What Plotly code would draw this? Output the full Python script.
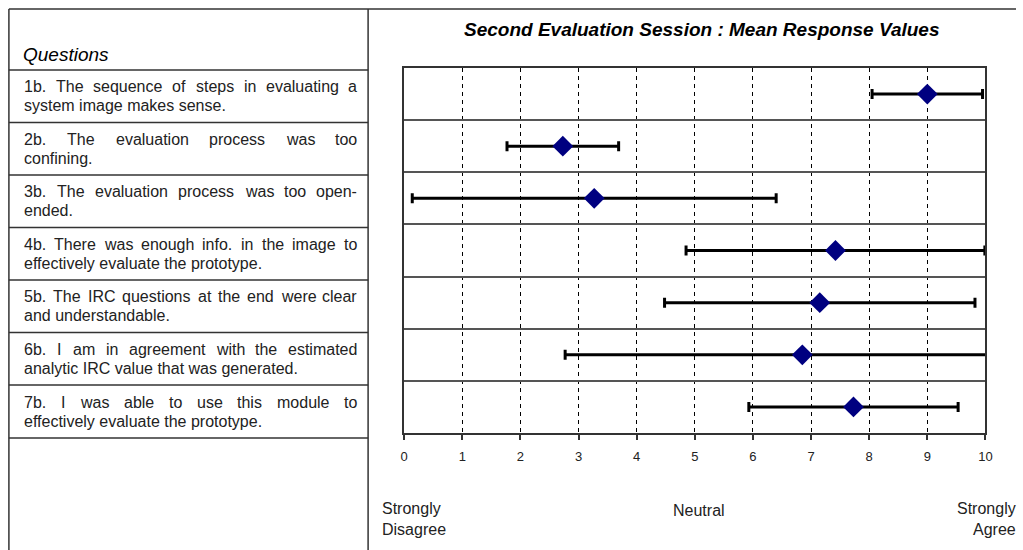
import plotly.graph_objects as go

# ---- data ----
question_lines = [
    ["1b. The sequence of steps in evaluating a", "system image makes sense."],
    ["2b. The evaluation process was too", "confining."],
    ["3b. The evaluation process was too open-", "ended."],
    ["4b. There was enough info. in the image to", "effectively evaluate the prototype."],
    ["5b. The IRC questions at the end were clear", "and understandable."],
    ["6b. I am in agreement with the estimated", "analytic IRC value that was generated."],
    ["7b. I was able to use this module to", "effectively evaluate the prototype."],
]
row_index = [0, 1, 2, 3, 4, 5, 6]
mean_values = [9.0, 2.73, 3.27, 7.42, 7.15, 6.85, 7.73]
error_values = [0.95, 0.96, 3.13, 2.57, 2.67, 4.08, 1.80]
tick_values = [0, 1, 2, 3, 4, 5, 6, 7, 8, 9, 10]
scale_labels = ["Strongly<br>Disagree", "Neutral", "Strongly<br>Agree"]
title_text = "Second Evaluation Session : Mean Response Values"
header_text = "Questions"

W, H = 1023, 550
FONT = "Liberation Sans, Arial, sans-serif"
LINE = "#333333"
TXT = "#222222"
QSIZE = 16

# horizontal calibration of the rendered page
SQ, OFF = 0.9887, 4.1

def lx(x):
    """screen px -> layout px"""
    return (x - OFF) / SQ

def px(x):
    return lx(x) / W

def py(y):
    return 1 - y / H

# Arial / Liberation Sans advance widths (1/1000 em)
_AW = {' ': 278, '.': 278, ',': 278, '-': 333, ':': 278,
       '0': 556, '1': 556, '2': 556, '3': 556, '4': 556, '5': 556, '6': 556, '7': 556, '8': 556, '9': 556,
       'A': 667, 'B': 667, 'C': 722, 'D': 722, 'E': 667, 'F': 611, 'G': 778, 'H': 722, 'I': 278,
       'J': 500, 'K': 667, 'L': 556, 'M': 833, 'N': 722, 'O': 778, 'P': 667, 'Q': 778, 'R': 722,
       'S': 667, 'T': 611, 'U': 722, 'V': 667, 'W': 944, 'X': 667, 'Y': 667, 'Z': 611,
       'a': 556, 'b': 556, 'c': 500, 'd': 556, 'e': 556, 'f': 278, 'g': 556, 'h': 556, 'i': 222,
       'j': 222, 'k': 500, 'l': 222, 'm': 833, 'n': 556, 'o': 556, 'p': 556, 'q': 556, 'r': 333,
       's': 500, 't': 278, 'u': 556, 'v': 500, 'w': 722, 'x': 500, 'y': 500, 'z': 500}

def text_width(s, size):
    return sum(_AW.get(c, 556) for c in s) * size / 1000.0

def ann(text, x, y, size, xanchor="left", align="left", color=TXT, xref="paper"):
    return dict(text=text, xref=xref, yref="paper", x=x, y=y, xanchor=xanchor,
                yanchor="middle", align=align, showarrow=False, borderpad=0, borderwidth=0,
                font=dict(family=FONT, size=size, color=color))

fig = go.Figure()
fig.add_trace(go.Scatter(
    x=mean_values, y=row_index, mode="markers",
    marker=dict(symbol="diamond", size=16, color="#000080"),
    error_x=dict(type="data", array=error_values, symmetric=True,
                 color="black", thickness=3, width=5),
    showlegend=False, hoverinfo="x",
))

# table frame (left column)
row_lines = [70, 122.5, 175, 227.5, 280, 332.5, 385, 438]
shapes = [
    dict(type="line", xref="paper", yref="paper", x0=px(9), x1=1, y0=py(9), y1=py(9),
         line=dict(color=LINE, width=1.5)),
    dict(type="line", xref="paper", yref="paper", x0=px(9), x1=px(9), y0=py(9), y1=0,
         line=dict(color=LINE, width=1.5)),
    dict(type="line", xref="paper", yref="paper", x0=px(368), x1=px(368), y0=py(9), y1=0,
         line=dict(color=LINE, width=1.5)),
]
for yl in row_lines:
    shapes.append(dict(type="line", xref="paper", yref="paper", x0=px(9), x1=px(368),
                       y0=py(yl), y1=py(yl), line=dict(color=LINE, width=1.5)))

annotations = [
    ann(f"<i>{header_text}</i>", px(23), py(55), 19, color="black"),
    ann(f"<b><i>{title_text}</i></b>", px(702), py(29), 19, xanchor="center",
        align="center", color="black"),
]

TL, TR = lx(24), lx(357)   # text column (layout px)
for i, lines in enumerate(question_lines):
    yc = (row_lines[i] + row_lines[i + 1]) / 2
    # first line: justified word by word
    words = lines[0].split(" ")
    widths = [text_width(w, QSIZE) for w in words]
    gap = (TR - TL - sum(widths)) / (len(words) - 1)
    xpos = TL
    for k, w in enumerate(words):
        last = k == len(words) - 1
        annotations.append(ann(w, (TR if last else xpos) / W, py(yc - 9.5), QSIZE,
                               xanchor="right" if last else "left"))
        xpos += widths[k] + gap
    # second line: left aligned
    annotations.append(ann(lines[1], TL / W, py(yc + 9.5), QSIZE))

annotations += [
    ann(scale_labels[0], px(382), py(519), 16),
    ann(scale_labels[1], px(699), py(510), 16, xanchor="center", align="center"),
    ann(scale_labels[2], 1, py(519), 16, xanchor="right", align="right"),
]

fig.update_layout(
    width=W, height=H,
    margin=dict(l=0, r=0, t=0, b=0),
    paper_bgcolor="white", plot_bgcolor="white",
    shapes=shapes, annotations=annotations,
    xaxis=dict(domain=[px(404), px(985)], range=[0, 10],
               tickvals=tick_values, ticktext=[str(t) for t in tick_values],
               showgrid=True, gridcolor="black", gridwidth=1.3, griddash="4px,4px",
               zeroline=False, showline=True, mirror=True, linecolor=LINE, linewidth=2,
               ticks="outside", ticklen=5, tickwidth=1.5, tickcolor=LINE,
               ticklabelstandoff=5,
               tickfont=dict(family=FONT, size=13, color=TXT)),
    yaxis=dict(domain=[py(433), py(68)], range=[6.5, -0.5],
               tickvals=[0.5, 1.5, 2.5, 3.5, 4.5, 5.5], showticklabels=False,
               showgrid=True, gridcolor="#555555", gridwidth=2,
               zeroline=False, showline=True, mirror=True, linecolor=LINE, linewidth=2,
               ticks=""),
)

fig.write_html("out.html", config={"displayModeBar": False},
               post_script="document.body.style.margin='0';"
                           "document.documentElement.style.overflow='hidden';"
                           "document.body.style.overflow='hidden';")
